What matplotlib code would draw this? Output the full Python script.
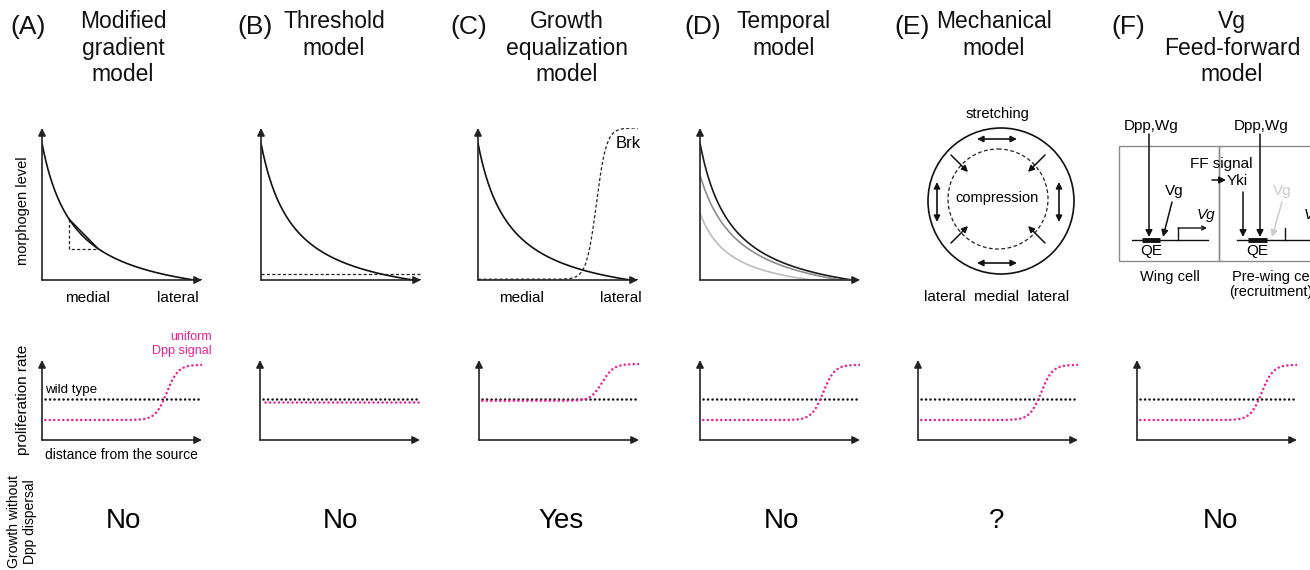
import numpy as np
import matplotlib
matplotlib.use('Agg')
import matplotlib.pyplot as plt
from matplotlib.patches import Circle, Rectangle

plt.rcParams['font.family'] = ['Liberation Sans', 'DejaVu Sans']

W, H = 1310, 570

# ---- panel text ----
panel_tags = ['(A)', '(B)', '(C)', '(D)', '(E)', '(F)']
titles = ['Modified\ngradient\nmodel', 'Threshold\nmodel', 'Growth\nequalization\nmodel',
          'Temporal\nmodel', 'Mechanical\nmodel', 'Vg\nFeed-forward\nmodel']
answers = ['No', 'No', 'Yes', 'No', '?', 'No']

# ---- morphogen gradients (top row, A-D) ----
# hyperbolic decay: start level, offset, position where it reaches zero
grad_start = 0.90
grad_offset = 0.20
grad_end = 0.95
threshold_level = 0.04
brk_low, brk_high, brk_mid, brk_slope = 0.005, 1.0, 0.74, 32
temporal_start = [0.90, 0.69, 0.44]
temporal_offset = [0.20, 0.25, 0.20]
temporal_end = [0.95, 0.88, 0.70]
temporal_color = ['#1a1a1a', '#8c8c8c', '#bdbdbd']
tangent_x = [0.17, 0.35]

# ---- proliferation profiles (bottom row, A-F) ----
wt_level = 0.51
dpp_low = [0.25, 0.50, 0.49, 0.25, 0.25, 0.25]
dpp_high = [0.94, 0.50, 0.95, 0.94, 0.94, 0.94]
dpp_mid = [0.78, 0.50, 0.77, 0.77, 0.77, 0.78]
dpp_slope = 28

PINK = '#ee1f8f'
AX = '#222222'


def decay(x, s, b, e):
    a = s / (1.0 / b - 1.0 / (e + b))
    c = a / (e + b)
    return np.clip(a / (x + b) - c, 0, None)


def sigmoid(x, lo, hi, mid, k):
    return lo + (hi - lo) / (1 + np.exp(-k * (x - mid)))


fig = plt.figure(figsize=(W / 100, H / 100), dpi=100)
bg = fig.add_axes([0, 0, 1, 1])
bg.set_xlim(0, W)
bg.set_ylim(H, 0)
bg.axis('off')


def px_axes(x0, ybot, w, h):
    ax = fig.add_axes([x0 / W, (H - ybot) / H, w / W, h / H])
    ax.set_xlim(0, 1)
    ax.set_ylim(0, 1)
    ax.axis('off')
    for xy in [(1.0, 0), (0, 1.0)]:
        ax.annotate('', xy=xy, xytext=(0, 0),
                    arrowprops=dict(arrowstyle='-|>', color=AX, lw=1.2,
                                    mutation_scale=11, shrinkA=0, shrinkB=0),
                    annotation_clip=False)
    return ax


# titles
tag_x = [28, 255, 469, 703, 912, 1128]
title_x = [123, 334, 567, 784, 994, 1232]
for tx, t, cx, title in zip(tag_x, panel_tags, title_x, titles):
    bg.text(tx, 27, t, fontsize=19, ha='center', va='center', color='#111')
    bg.text(cx, 10, title, fontsize=16.5, ha='center', va='top', color='#111',
            linespacing=1.2, multialignment='center')

# ---- top row ----
x = np.linspace(0, 1, 400)
top_x0 = [42, 261, 478, 700]
top_axes = [px_axes(x0, 280, 160, 152) for x0 in top_x0]

for ax in top_axes[:3]:
    ax.plot(x, decay(x, grad_start, grad_offset, grad_end), color='#111', lw=1.2)

# A: local slope
ya = decay(np.array(tangent_x), grad_start, grad_offset, grad_end)
axA = top_axes[0]
axA.plot([tangent_x[0], tangent_x[0], tangent_x[1]], [ya[0], ya[1], ya[1]],
         color='#222', lw=0.9, ls=(0, (2.5, 1.8)))
axA.plot(tangent_x, ya, color='#111', lw=1.1)

# B: threshold
top_axes[1].plot([0, 1.0], [threshold_level] * 2, color='#222', lw=0.9, ls=(0, (2.5, 1.8)))

# C: Brk
top_axes[2].plot(x, sigmoid(x, brk_low, brk_high, brk_mid, brk_slope), color='#222',
                 lw=0.9, ls=(0, (2.5, 1.8)))
bg.text(628, 144, 'Brk', fontsize=12, ha='center', va='center')

# D: temporal
for s, b, e, c in zip(temporal_start, temporal_offset, temporal_end, temporal_color):
    top_axes[3].plot(x, decay(x, s, b, e), color=c, lw=1.2)

# axis labels top
bg.text(23, 211, 'morphogen level', fontsize=10.5, rotation=90, ha='center', va='center')
for mx, lx in [(87, 178), (521, 621)]:
    bg.text(mx, 298, 'medial', fontsize=11, ha='center', va='center')
    bg.text(lx, 298, 'lateral', fontsize=11, ha='center', va='center')

# ---- E: mechanical ----
bg.add_patch(Circle((1001, 201), 73, fill=False, lw=1.2, ec='#111'))
bg.add_patch(Circle((998, 199), 50, fill=False, lw=0.9, ec='#222', ls=(0, (3, 2))))
bg.text(997, 114, 'stretching', fontsize=10.5, ha='center', va='center')
bg.text(997, 198, 'compression', fontsize=10.5, ha='center', va='center')
bg.text(997, 297, 'lateral  medial  lateral', fontsize=11, ha='center', va='center')
dbl = dict(arrowstyle='<|-|>', color='#111', lw=1.2, mutation_scale=9, shrinkA=0, shrinkB=0)
for a, b in [((977, 139), (1017, 139)), ((977, 263), (1017, 263)),
             ((937, 182), (937, 222)), ((1059, 182), (1059, 222))]:
    bg.annotate('', xy=b, xytext=a, arrowprops=dbl)
one = dict(arrowstyle='-|>', color='#111', lw=1.1, mutation_scale=9, shrinkA=0, shrinkB=0)
for a, b in [((951, 155), (968, 172)), ((1045, 155), (1028, 172)),
             ((951, 243), (968, 226)), ((1045, 243), (1028, 226))]:
    bg.annotate('', xy=b, xytext=a, arrowprops=one)

# ---- F: Vg feed-forward ----
bg.add_patch(Rectangle((1119, 146), 100, 115, fill=False, ec='#8a8a8a', lw=1.0))
bg.add_patch(Rectangle((1219, 146), 130, 115, fill=False, ec='#8a8a8a', lw=1.0))
bg.text(1151, 126, 'Dpp,Wg', fontsize=11, ha='center', va='center')
bg.text(1261, 126, 'Dpp,Wg', fontsize=11, ha='center', va='center')
arr = dict(arrowstyle='-|>', color='#111', lw=1.1, mutation_scale=10, shrinkA=0, shrinkB=0)
for a, b in [((1149, 134), (1149, 237)), ((1260, 134), (1260, 237)),
             ((1243, 192), (1243, 237)), ((1172, 202), (1163, 237)),
             ((1212, 180), (1226, 180))]:
    bg.annotate('', xy=b, xytext=a, arrowprops=arr)
bg.annotate('', xy=(1272, 237), xytext=(1282, 202),
            arrowprops=dict(arr, color='#cccccc'))
bg.text(1221, 164, 'FF signal', fontsize=11, ha='center', va='center')
bg.text(1227, 181, 'Yki', fontsize=11, ha='left', va='center')
bg.text(1174, 191, 'Vg', fontsize=11, ha='center', va='center')
bg.text(1282, 191, 'Vg', fontsize=11, ha='center', va='center', color='#cccccc')
for g0, g1, q0, q1, bx in [(1132, 1208, 1142, 1160, 1178), (1237, 1320, 1248, 1267, 1285)]:
    bg.plot([g0, g1], [240, 240], color='#111', lw=1.0)
    bg.plot([q0, q1], [239.5, 239.5], color='#111', lw=3.5, solid_capstyle='butt')
    bg.text((q0 + q1) / 2, 251, 'QE', fontsize=11, ha='center', va='center')
    bg.plot([bx, bx], [240, 228], color='#111', lw=1.0)
    bg.annotate('', xy=(bx + 29, 228), xytext=(bx, 228),
                arrowprops=dict(arrowstyle='->', color='#111', lw=1.0, mutation_scale=7,
                                shrinkA=0, shrinkB=0))
    bg.text(bx + 28, 215, 'Vg', fontsize=11, ha='center', va='center', style='italic')
bg.text(1170, 277, 'Wing cell', fontsize=10.5, ha='center', va='center')
bg.text(1232, 277, 'Pre-wing cell', fontsize=10.5, ha='left', va='center')
bg.text(1229, 292, '(recruitment)', fontsize=10.5, ha='left', va='center')

# ---- bottom row ----
bot_x0 = [42, 260, 479, 700, 918, 1137]
dots = (0, (0.05, 1.75))
xs = np.linspace(0.02, 1.0, 400)
for i, x0 in enumerate(bot_x0):
    ax = px_axes(x0, 440, 160, 80)
    ax.plot([0.02, 1.0], [wt_level] * 2, color='#111', lw=1.8, ls=dots,
            dash_capstyle='round')
    if i == 1:
        ax.plot(xs, np.full_like(xs, dpp_low[i] - 0.02), color=PINK, lw=1.8,
                ls=(1.0, (0.05, 1.75)), dash_capstyle='round')
    else:
        ax.plot(xs, sigmoid(xs, dpp_low[i], dpp_high[i], dpp_mid[i], dpp_slope),
                color=PINK, lw=1.8, ls=dots, dash_capstyle='round')

bg.text(23, 400, 'proliferation rate', fontsize=11, rotation=90, ha='center', va='center')
bg.text(45, 390, 'wild type', fontsize=9.6, ha='left', va='center')
bg.text(121, 455, 'distance from the source', fontsize=10, ha='center', va='center')
bg.text(212, 344, 'uniform\nDpp signal', fontsize=9, ha='right', va='center',
        color=PINK, multialignment='right', linespacing=1.2)

# ---- bottom answers ----
bg.text(22, 522, 'Growth without\nDpp dispersal', fontsize=10, rotation=90,
        ha='center', va='center', linespacing=1.15)
ans_x = [123, 340, 561, 781, 997, 1220]
for ax_, a in zip(ans_x, answers):
    bg.text(ax_, 521, a, fontsize=20, ha='center', va='center')

fig.savefig('out.png', dpi=100)
